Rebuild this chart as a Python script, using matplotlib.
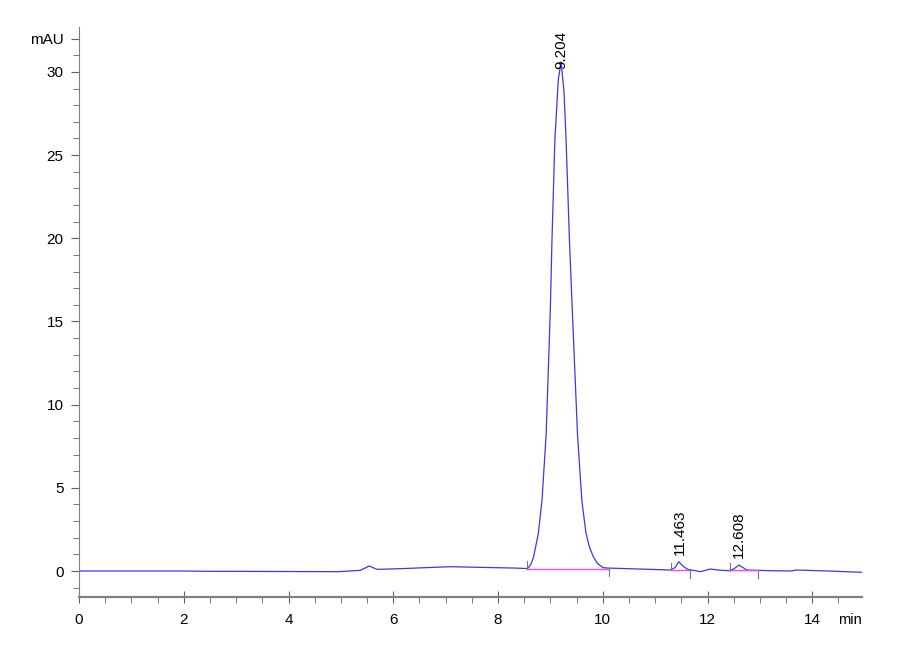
import matplotlib
matplotlib.use("Agg")
import matplotlib.pyplot as plt
from matplotlib.ticker import MultipleLocator

plt.rcParams['font.family'] = ['Liberation Sans Narrow', 'Liberation Sans', 'DejaVu Sans']

# chromatogram (min, mAU)
times = [0.0, 1.0, 2.0, 2.5, 3.0, 4.0, 4.95, 5.37, 5.54, 5.69, 6.13, 7.09, 7.66,
         8.30, 8.55, 8.58, 8.63, 8.68, 8.77, 8.84, 8.92, 9.00, 9.03, 9.085, 9.15, 9.204,
         9.26, 9.30, 9.364, 9.416, 9.517, 9.60, 9.68, 9.75, 9.82, 9.90, 10.01, 10.08, 10.90,
         11.29, 11.38, 11.45, 11.53, 11.62, 11.87, 12.05, 12.20, 12.40, 12.50,
         12.60, 12.68, 12.75, 13.20, 13.58, 13.70, 14.30, 14.97]
signal = [0.0, 0.0, 0.0, -0.02, -0.02, -0.03, -0.04, 0.04, 0.30, 0.10, 0.14, 0.26, 0.22,
          0.18, 0.15, 0.20, 0.42, 0.86, 2.26, 4.26, 8.26, 15.86, 19.86, 25.86, 29.5, 30.6,
          28.8, 25.86, 19.86, 15.86, 8.26, 4.26, 2.26, 1.40, 0.86, 0.45, 0.20, 0.18, 0.10,
          0.06, 0.20, 0.56, 0.30, 0.10, -0.04, 0.12, 0.06, 0.02, 0.12,
          0.36, 0.20, 0.06, 0.02, 0.0, 0.06, 0.0, -0.08]

# integrated peaks
peak_rt = [9.204, 11.463, 12.608]
peak_height = [30.6, 0.56, 0.36]
base_start = [8.55, 11.30, 12.42]
base_end = [10.12, 11.67, 12.97]
base_y0 = [0.15, 0.05, 0.03]
base_y1 = [0.15, 0.05, 0.02]

fig = plt.figure(figsize=(9, 6.6), dpi=100)
ax = fig.add_axes([0.0878, 0.0955, 0.870, 0.8636])

ax.plot(times, signal, color='#3a3ae0', linewidth=0.9)

for x0, x1, y0, y1 in zip(base_start, base_end, base_y0, base_y1):
    ax.plot([x0, x1], [y0, y1], color='#ff44ff', linewidth=1.0)
    ax.plot([x0, x0], [y0, y0 + 0.45], color='#777777', linewidth=0.8)
    ax.plot([x1, x1], [y1 - 0.45, y1], color='#777777', linewidth=0.8)

for rt, h in zip(peak_rt, peak_height):
    y = h - 0.45 if h > 5 else h + 0.4
    ax.text(rt, y, f"{rt:.3f}", rotation=90, ha='center', va='bottom', fontsize=11)

ax.set_xlim(0, 14.95)
ax.set_ylim(-1.56, 32.7)

for s in ['top', 'right']:
    ax.spines[s].set_visible(False)
ax.spines['left'].set_color('#808080')
ax.spines['bottom'].set_color('#808080')
ax.spines['bottom'].set_linewidth(1.6)

ax.set_xticks([0, 2, 4, 6, 8, 10, 12, 14])
ax.xaxis.set_minor_locator(MultipleLocator(0.5))
ax.set_yticks([0, 5, 10, 15, 20, 25, 30, 32])
ax.set_yticklabels(['0', '5', '10', '15', '20', '25', '30', 'mAU'])
ax.yaxis.set_minor_locator(MultipleLocator(1))

ax.tick_params(axis='both', which='both', colors='#606060', labelcolor='black', labelsize=11)
ax.tick_params(axis='x', which='major', direction='inout', length=9, pad=7)
ax.tick_params(axis='x', which='minor', direction='out', length=4)
ax.tick_params(axis='y', which='major', length=6, pad=5)
ax.tick_params(axis='y', which='minor', length=4)

ax.text(14.95, -2.5, 'min', ha='right', va='top', fontsize=10.5)

fig.savefig('out.png', dpi=100)
